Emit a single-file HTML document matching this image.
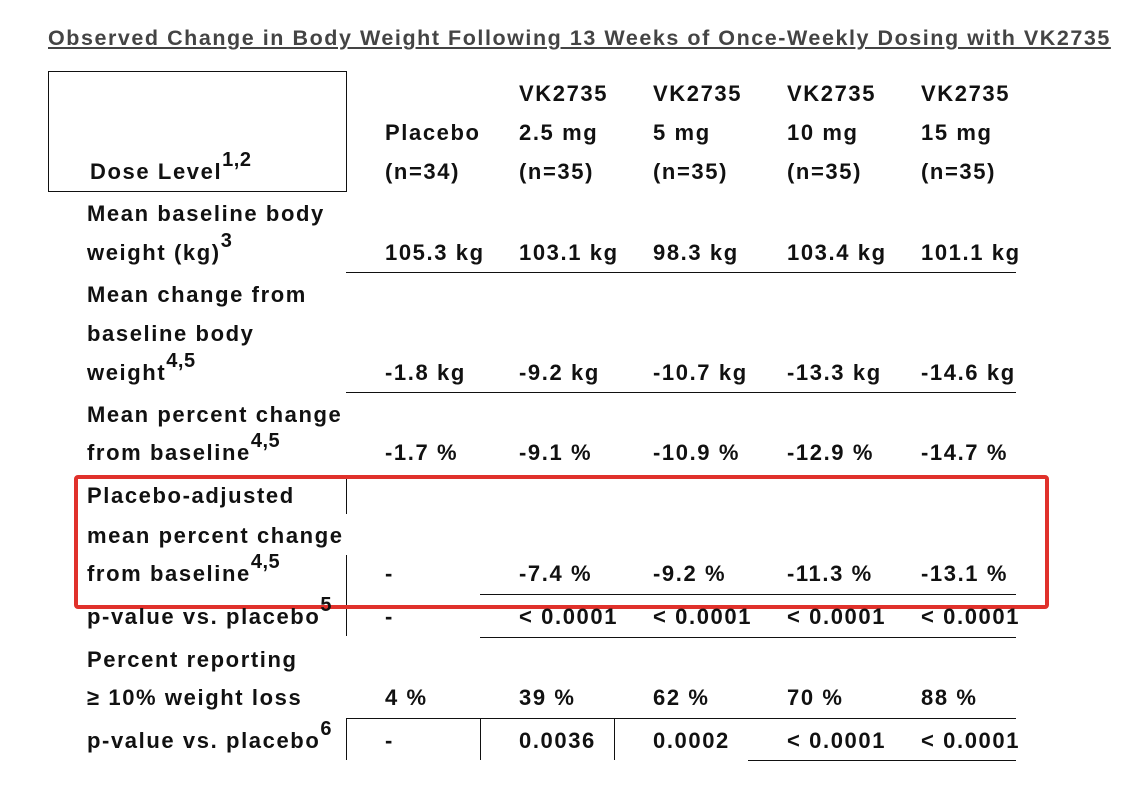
<!DOCTYPE html>
<html><head><meta charset="utf-8"><style>
body{margin:0;width:1141px;height:801px;background:#fff;position:relative;overflow:hidden;font-family:"Liberation Sans",sans-serif;color:#111;}
.t{position:absolute;font-weight:bold;font-size:22px;line-height:26px;white-space:nowrap;letter-spacing:1.6px;}
.t sup{font-size:20px;position:relative;top:-9px;vertical-align:top;line-height:1;letter-spacing:0.5px}
.h{position:absolute;height:1px;background:#111}
.v{position:absolute;width:1px;background:#111}
</style></head><body>
<div class="t" style="left:48px;top:25px;font-size:21.5px;color:#444;text-decoration:underline;letter-spacing:1.55px">Observed Change in Body Weight Following 13 Weeks of Once-Weekly Dosing with VK2735</div>
<div style="position:absolute;left:48px;top:71px;width:297px;height:119px;border:1px solid #111"></div>
<div class="t" style="left:90px;top:159px">Dose Level<sup>1,2</sup></div>

<div class="h" style="left:346px;top:272px;width:670px"></div>
<div class="h" style="left:346px;top:392px;width:670px"></div>
<div class="v" style="left:346px;top:476px;height:38px"></div>
<div class="v" style="left:346px;top:555px;height:81px"></div>
<div class="h" style="left:480px;top:594px;width:536px"></div>
<div class="h" style="left:480px;top:637px;width:536px"></div>
<div class="h" style="left:346px;top:718px;width:670px"></div>
<div class="v" style="left:346px;top:718px;height:42px"></div>
<div class="v" style="left:480px;top:718px;height:42px"></div>
<div class="v" style="left:614px;top:718px;height:42px"></div>
<div class="h" style="left:748px;top:760px;width:268px"></div>

<div style="position:absolute;left:74px;top:475px;width:967px;height:126px;border:4px solid #e0312b;border-radius:4px"></div>

<script>
const cols=[385,519,653,787,921];
const headers=[["","Placebo","(n=34)"],["VK2735","2.5 mg","(n=35)"],["VK2735","5 mg","(n=35)"],["VK2735","10 mg","(n=35)"],["VK2735","15 mg","(n=35)"]];
const hdrY=[94,133,172];
const labels=[
 [[214,"Mean baseline body",""],[253,"weight (kg)","3"]],
 [[295,"Mean change from",""],[334,"baseline body",""],[373,"weight","4,5"]],
 [[415,"Mean percent change",""],[453,"from baseline","4,5"]],
 [[496,"Placebo-adjusted",""],[536,"mean percent change",""],[574,"from baseline","4,5"]],
 [[617,"p-value vs. placebo","5"]],
 [[660,"Percent reporting",""],[698,"\u2265 10% weight loss",""]],
 [[741,"p-value vs. placebo","6"]]
];
const valueY=[253,373,453,574,617,698,741];
const values=[
 ["105.3 kg","103.1 kg","98.3 kg","103.4 kg","101.1 kg"],
 ["-1.8 kg","-9.2 kg","-10.7 kg","-13.3 kg","-14.6 kg"],
 ["-1.7 %","-9.1 %","-10.9 %","-12.9 %","-14.7 %"],
 ["-","-7.4 %","-9.2 %","-11.3 %","-13.1 %"],
 ["-","< 0.0001","< 0.0001","< 0.0001","< 0.0001"],
 ["4 %","39 %","62 %","70 %","88 %"],
 ["-","0.0036","0.0002","< 0.0001","< 0.0001"]
];
function txt(x,y,html,name){
 const d=document.createElement('div');
 d.className='t';
 d.style.left=x+'px';d.style.top=(y-13)+'px';
 d.innerHTML=html;
 
 
 document.body.appendChild(d);
}
headers.forEach((h,c)=>h.forEach((s,r)=>{if(s)txt(cols[c],hdrY[r],s,'column-header');}));
labels.forEach(rows=>rows.forEach(([y,s,sup])=>txt(87,y,s+(sup?'<sup>'+sup+'</sup>':''),'row-label')));
values.forEach((row,r)=>row.forEach((v,c)=>txt(cols[c],valueY[r],v.replace('<','&lt;'),'cell-value')));
</script>
</body></html>
